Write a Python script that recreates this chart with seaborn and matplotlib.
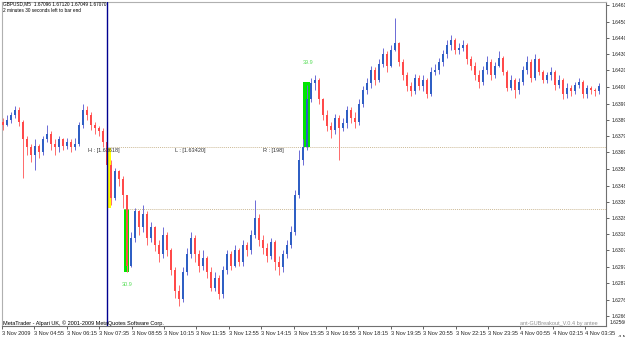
import numpy as np
import pandas as pd
import seaborn as sns
import matplotlib
matplotlib.use("Agg")
import matplotlib.pyplot as plt
from matplotlib.patches import Rectangle

sns.set_theme(style="white")
plt.rcParams['font.family'] = ['Liberation Sans', 'DejaVu Sans']

# ---- data (GBPUSD M5 candles) ----
open_ = [1.6388,1.6386,1.6389,1.6392,1.6395,1.6388,1.6377,1.6372,1.6367,1.6373,
         1.6369,1.6377,1.6380,1.6374,1.6372,1.6377,1.6373,1.6375,1.6372,1.6374,
         1.6386,1.6395,1.6392,1.6386,1.6384,1.6382,1.6375,1.6361,1.6340,1.6357,
         1.6352,1.6342,1.6298,1.6315,1.6332,1.6322,1.6330,1.6315,1.6322,1.6311,
         1.6305,1.6317,1.6308,1.6295,1.6282,1.6277,1.6294,1.6305,1.6315,1.6305,
         1.6298,1.6303,1.6294,1.6284,1.6290,1.6280,1.6295,1.6305,1.6298,1.6308,
         1.6300,1.6311,1.6308,1.6317,1.6328,1.6314,1.6309,1.6304,1.6313,1.6300,
         1.6297,1.6305,1.6311,1.6319,1.6342,1.6364,1.6372,1.6402,1.6412,1.6414,
         1.6402,1.6392,1.6385,1.6383,1.6390,1.6384,1.6387,1.6395,1.6390,1.6388,
         1.6399,1.6408,1.6412,1.6420,1.6414,1.6424,1.6430,1.6423,1.6433,1.6437,
         1.6425,1.6417,1.6410,1.6407,1.6415,1.6410,1.6414,1.6405,1.6419,1.6420,
         1.6425,1.6430,1.6436,1.6439,1.6433,1.6434,1.6436,1.6427,1.6423,1.6417,
         1.6413,1.6420,1.6425,1.6417,1.6423,1.6428,1.6419,1.6409,1.6414,1.6408,
         1.6413,1.6420,1.6425,1.6415,1.6427,1.6419,1.6414,1.6417,1.6419,1.6411,
         1.6414,1.6405,1.6409,1.6407,1.6411,1.6413,1.6405,1.6409,1.6408,1.6407]
high = [1.6390,1.6392,1.6394,1.6398,1.6397,1.6389,1.6379,1.6374,1.6377,1.6374,
        1.6379,1.6386,1.6382,1.6377,1.6379,1.6378,1.6378,1.6377,1.6378,1.6388,
        1.6399,1.6398,1.6394,1.6388,1.6385,1.6384,1.6377,1.6364,1.6359,1.6358,
        1.6354,1.6342,1.6319,1.6334,1.6333,1.6336,1.6332,1.6325,1.6323,1.6314,
        1.6322,1.6319,1.6309,1.6297,1.6286,1.6297,1.6309,1.6319,1.6317,1.6308,
        1.6308,1.6304,1.6297,1.6294,1.6292,1.6298,1.6308,1.6307,1.6311,1.6309,
        1.6314,1.6313,1.6320,1.6339,1.6330,1.6317,1.6312,1.6315,1.6314,1.6304,
        1.6308,1.6314,1.6323,1.6345,1.6370,1.6377,1.6411,1.6415,1.6417,1.6415,
        1.6403,1.6395,1.6388,1.6393,1.6392,1.6390,1.6398,1.6397,1.6394,1.6402,
        1.6410,1.6415,1.6423,1.6422,1.6427,1.6434,1.6432,1.6436,1.6453,1.6438,
        1.6427,1.6419,1.6413,1.6418,1.6417,1.6417,1.6415,1.6422,1.6424,1.6428,
        1.6433,1.6439,1.6442,1.6440,1.6437,1.6439,1.6437,1.6429,1.6425,1.6420,
        1.6423,1.6429,1.6427,1.6425,1.6432,1.6429,1.6420,1.6417,1.6415,1.6415,
        1.6423,1.6429,1.6427,1.6430,1.6428,1.6420,1.6419,1.6422,1.6420,1.6417,
        1.6415,1.6412,1.6411,1.6413,1.6415,1.6414,1.6411,1.6410,1.6409,1.6412]
low = [1.6383,1.6385,1.6387,1.6390,1.6385,1.6353,1.6367,1.6363,1.6358,1.6365,
       1.6367,1.6375,1.6370,1.6367,1.6369,1.6370,1.6371,1.6369,1.6370,1.6373,
       1.6384,1.6389,1.6383,1.6380,1.6379,1.6372,1.6358,1.6336,1.6339,1.6348,
       1.6334,1.6294,1.6297,1.6313,1.6317,1.6319,1.6311,1.6313,1.6307,1.6300,
       1.6303,1.6304,1.6292,1.6278,1.6273,1.6275,1.6292,1.6303,1.6300,1.6294,
       1.6295,1.6290,1.6282,1.6282,1.6277,1.6278,1.6293,1.6295,1.6297,1.6298,
       1.6298,1.6304,1.6305,1.6315,1.6310,1.6305,1.6300,1.6302,1.6295,1.6292,
       1.6294,1.6303,1.6309,1.6317,1.6340,1.6361,1.6370,1.6400,1.6408,1.6399,
       1.6389,1.6382,1.6378,1.6380,1.6364,1.6382,1.6384,1.6387,1.6384,1.6386,
       1.6397,1.6405,1.6409,1.6411,1.6413,1.6422,1.6419,1.6422,1.6432,1.6423,
       1.6414,1.6407,1.6404,1.6405,1.6408,1.6407,1.6403,1.6404,1.6417,1.6418,
       1.6423,1.6428,1.6433,1.6430,1.6430,1.6432,1.6424,1.6420,1.6414,1.6409,
       1.6411,1.6418,1.6414,1.6415,1.6422,1.6417,1.6407,1.6408,1.6403,1.6405,
       1.6411,1.6418,1.6413,1.6414,1.6417,1.6412,1.6412,1.6414,1.6408,1.6409,
       1.6402,1.6403,1.6404,1.6405,1.6409,1.6403,1.6403,1.6405,1.6404,1.6405]
close = [1.6386,1.6389,1.6392,1.6395,1.6388,1.6377,1.6372,1.6367,1.6373,1.6369,
         1.6377,1.6380,1.6374,1.6372,1.6377,1.6373,1.6375,1.6372,1.6374,1.6386,
         1.6395,1.6392,1.6386,1.6384,1.6382,1.6375,1.6361,1.6340,1.6357,1.6352,
         1.6342,1.6298,1.6315,1.6332,1.6322,1.6330,1.6315,1.6322,1.6311,1.6305,
         1.6317,1.6308,1.6295,1.6282,1.6277,1.6294,1.6305,1.6315,1.6305,1.6298,
         1.6303,1.6294,1.6284,1.6290,1.6280,1.6295,1.6305,1.6298,1.6308,1.6300,
         1.6311,1.6308,1.6317,1.6328,1.6314,1.6309,1.6304,1.6313,1.6300,1.6297,
         1.6305,1.6311,1.6319,1.6342,1.6364,1.6372,1.6402,1.6412,1.6414,1.6402,
         1.6392,1.6385,1.6383,1.6390,1.6384,1.6387,1.6395,1.6390,1.6388,1.6399,
         1.6408,1.6412,1.6420,1.6414,1.6424,1.6430,1.6423,1.6433,1.6437,1.6425,
         1.6417,1.6410,1.6407,1.6415,1.6410,1.6414,1.6405,1.6419,1.6420,1.6425,
         1.6430,1.6436,1.6439,1.6433,1.6434,1.6436,1.6427,1.6423,1.6417,1.6413,
         1.6420,1.6425,1.6417,1.6423,1.6428,1.6419,1.6409,1.6414,1.6408,1.6413,
         1.6420,1.6425,1.6415,1.6427,1.6419,1.6414,1.6417,1.6419,1.6411,1.6414,
         1.6405,1.6409,1.6407,1.6411,1.6413,1.6405,1.6409,1.6408,1.6407,1.6410]

x_labels = ["3 Nov 2009", "3 Nov 04:55", "3 Nov 06:15", "3 Nov 07:35", "3 Nov 08:55",
            "3 Nov 10:15", "3 Nov 11:35", "3 Nov 12:55", "3 Nov 14:15", "3 Nov 15:35",
            "3 Nov 16:55", "3 Nov 18:15", "3 Nov 19:35", "3 Nov 20:55", "3 Nov 22:15",
            "3 Nov 23:35", "4 Nov 00:55", "4 Nov 02:15", "4 Nov 03:35", "4 Nov 04:55"]
y_labels = ["1.64610", "1.64505", "1.64400", "1.64300", "1.64200", "1.64095", "1.63990",
            "1.63890", "1.63790", "1.63690", "1.63585", "1.63480", "1.63380", "1.63280",
            "1.63180", "1.63075", "1.62970", "1.62870", "1.62765", "1.62665", "1.62560"]

hi_level = 1.63721
lo_level = 1.63334
breakout_start = 26.0
up_box = (1.63721, 1.64128)
down_box = (1.62940, 1.63334)
signal_box = (1.63340, 1.63715)

df = pd.DataFrame({"open": open_, "high": high, "low": low, "close": close})
df["idx"] = np.arange(len(df))
df["up"] = df["close"] >= df["open"]

UP = "#2f5fc4"
DOWN = "#ff4a4a"
UPW = "#6b6bd6"
DOWNW = "#ff6a6a"

fig = plt.figure(figsize=(6.25, 3.37), dpi=100)
ax = fig.add_axes([2/625, 11/337, 604/625, 324/337])
ax.set_facecolor("white")

ax.set_xlim(-0.25, 150.75)
ax.set_ylim(1.626025, 1.646275)

# highlight boxes
ax.add_patch(Rectangle((26.1, signal_box[0]), 0.9, signal_box[1]-signal_box[0],
                       color="#ffff00", lw=0, zorder=1))
ax.add_patch(Rectangle((30.25, down_box[0]), 1.3, down_box[1]-down_box[0],
                       color="#00e600", lw=0, zorder=1))
ax.add_patch(Rectangle((75.0, up_box[0]), 1.75, up_box[1]-up_box[0],
                       color="#00e600", lw=0, zorder=1))

# wicks
wc = np.where(df["up"], UPW, DOWNW)
ax.vlines(df["idx"], df["low"], df["high"], colors=wc, lw=0.7, zorder=2)
# bodies
bottom = np.minimum(df["open"], df["close"])
height = np.maximum(np.abs(df["close"] - df["open"]), 0.00004)
bc = np.where(df["up"], UP, DOWN)
ax.bar(df["idx"], height, bottom=bottom, width=0.62, color=bc, lw=0, zorder=3)

# levels
ax.hlines([hi_level], breakout_start, 150.75, colors="#cdbb98", linestyles=(0, (1, 1)), lw=0.7, zorder=1)
ax.hlines([lo_level], 30.25, 150.75, colors="#cdbb98", linestyles=(0, (1, 1)), lw=0.7, zorder=1)
ax.axvline(26.0, color="#000090", lw=1.0, zorder=4)

tf = dict(fontsize=4, color="#333333", va="center", ha="left")
ax.text(21.2, 1.63700, "H : [1.63618]", **tf)
ax.text(43.0, 1.63700, "L : [1.63420]", **tf)
ax.text(65.0, 1.63700, "R : [198]", **tf)
ax.text(76.2, 1.64250, "39.9", fontsize=4, color="#55dd55", ha="center", va="center")
ax.text(31.0, 1.62860, "30.9", fontsize=4, color="#55dd55", ha="center", va="center")

# axes / ticks
for s in ax.spines.values():
    s.set_color("#707070")
    s.set_linewidth(0.8)
ax.spines["top"].set_color("#b0b0b0")
ax.spines["left"].set_color("#b0b0b0")
ax.yaxis.tick_right()
yvals = [float(v) for v in y_labels]
ax.set_yticks(yvals[:-1])
ax.set_yticklabels(y_labels[:-1])
ax.tick_params(axis="y", direction="out", length=2.5, width=0.5, pad=1.5,
               labelsize=3.6, colors="#222222", right=True, left=False)
xt = [-0.25 + 8.1 * k for k in range(19)]
ax.set_xticks(xt)
ax.set_xticklabels(x_labels[:19], ha="left")
ax.tick_params(axis="x", direction="out", length=2.5, width=0.5, pad=1.0,
               labelsize=4, colors="#222222", bottom=True)
ax.text(-0.25 + 8.1 * 19, -0.028, x_labels[19], transform=ax.get_xaxis_transform(),
        fontsize=4, color="#222222", ha="left", va="top", clip_on=False)
ax.text(1.0 + 4/604, 1.62608, y_labels[-1], transform=ax.get_yaxis_transform(),
        fontsize=3.6, color="#222222", ha="left", va="bottom", clip_on=False)

fig.text(3/625, 1 - 4/337, "GBPUSD,M5  1.67096 1.67120 1.67049 1.67070",
         fontsize=3.4, color="black", ha="left", va="center")
fig.text(3/625, 1 - 10/337, "2 minutes 30 seconds left to bar end",
         fontsize=3.4, color="black", ha="left", va="center")
fig.text(3/625, 1 - 323/337, "MetaTrader - Alpari UK, \u00a9 2001-2009 MetaQuotes Software Corp.",
         fontsize=4, color="black", ha="left", va="center")
fig.text(598/625, 1 - 323/337, "ant-GUBreakout_V.0.4 by antee",
         fontsize=4, color="#909090", ha="right", va="center")

fig.savefig("out.png", dpi=100)
